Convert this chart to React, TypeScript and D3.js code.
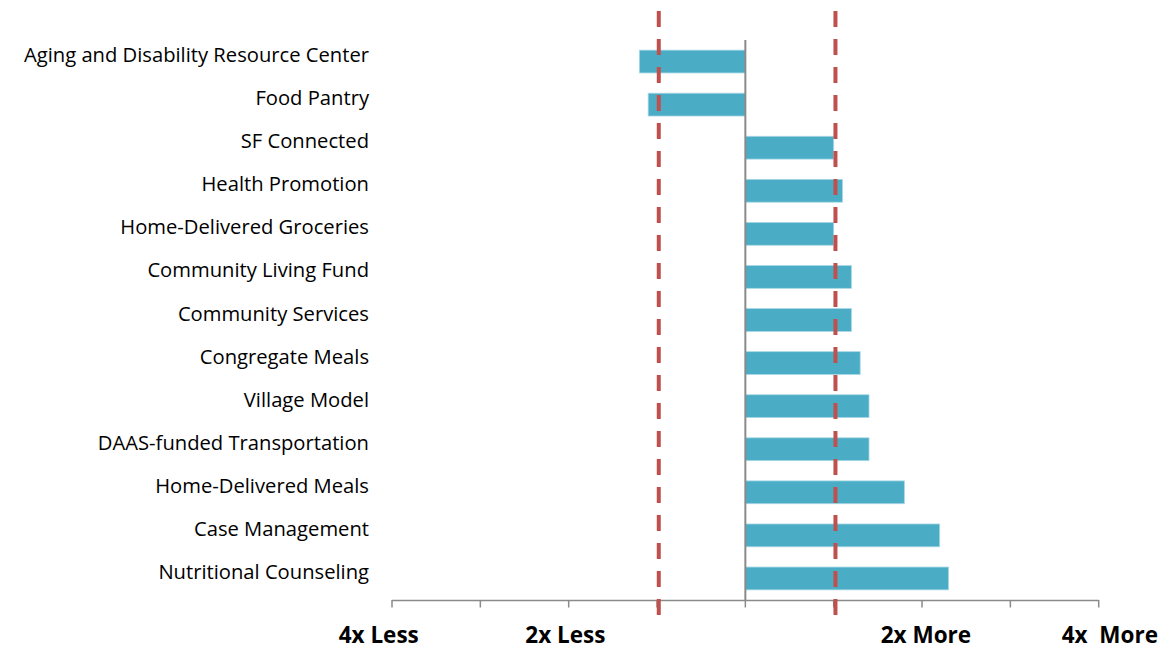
import React from "react";
import * as d3 from "d3";

const categories = [
  "Aging and Disability Resource Center",
  "Food Pantry",
  "SF Connected",
  "Health Promotion",
  "Home-Delivered Groceries",
  "Community Living Fund",
  "Community Services",
  "Congregate Meals",
  "Village Model",
  "DAAS-funded Transportation",
  "Home-Delivered Meals",
  "Case Management",
  "Nutritional Counseling",
];
// log2 ratio values
const values = [-0.6, -0.55, 0.5, 0.55, 0.5, 0.6, 0.6, 0.65, 0.7, 0.7, 0.9, 1.1, 1.15];
const tickValues = [-2, -1.5, -1, -0.5, 0, 0.5, 1, 1.5, 2];
const tickLabels = [
  { v: -2.075, text: "4x Less" },
  { v: -1.019, text: "2x Less" },
  { v: 1.022, text: "2x More" },
  { v: 2.063, text: "4x  More" },
];
const thresholds = [-0.49, 0.51];

const W = 1161;
const H = 645;

export default function App() {
  const x = d3.scaleLinear().domain([-2, 2]).range([392, 1098.7]);
  const y = d3.scaleBand<string>().domain(categories).range([40, 600]).paddingInner(0.47).paddingOuter(0.235);
  const font = "'Open Sans', Lato, sans-serif";
  return (
    <svg width={W} height={H} style={{ position: "absolute", left: 0, top: 0 }}>
      <rect width={W} height={H} fill="#fff" />
      {categories.map((c, i) => {
        const v = values[i];
        const x0 = x(Math.min(0, v));
        const x1 = x(Math.max(0, v));
        return (
          <rect key={c} x={x0} y={y(c)} width={x1 - x0} height={y.bandwidth()} fill="#4BACC6" stroke="#a8d8e6" strokeWidth={0.8} />
        );
      })}
      {categories.map((c) => (
        <text key={"l" + c} x={369} y={(y(c) as number) + y.bandwidth() / 2 + 0.5} textAnchor="end" fontFamily={font} fontSize={20.2} fill="#000">
          {c}
        </text>
      ))}
      <line x1={x(0)} x2={x(0)} y1={40} y2={600} stroke="#8a8a8a" strokeWidth={2} />
      <line x1={x(-2)} x2={x(2)} y1={600.5} y2={600.5} stroke="#8a8a8a" strokeWidth={1.5} />
      {tickValues.map((t) => (
        <line key={"t" + t} x1={x(t)} x2={x(t)} y1={600} y2={607.5} stroke="#8a8a8a" strokeWidth={1.5} />
      ))}
      {thresholds.map((t) => (
        <line key={"d" + t} x1={x(t)} x2={x(t)} y1={11} y2={622} stroke="#C0504D" strokeWidth={4} strokeDasharray="16 12" />
      ))}
      {tickLabels.map((t) => (
        <text key={t.text} x={x(t.v)} y={642.5} textAnchor="middle" fontFamily={font} fontSize={22.5} fontWeight="bold" fill="#000" style={{ whiteSpace: "pre" }}>
          {t.text}
        </text>
      ))}
    </svg>
  );
}
